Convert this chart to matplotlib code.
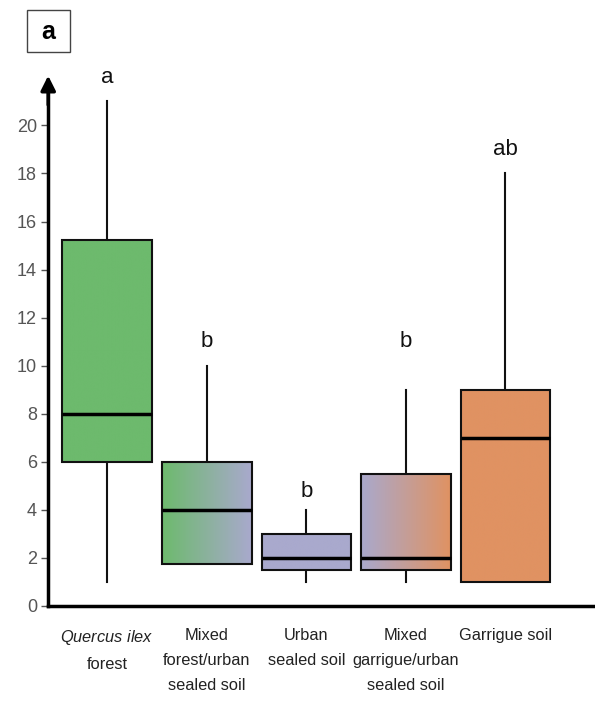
import numpy as np
import matplotlib
matplotlib.use("Agg")
import matplotlib.pyplot as plt
from matplotlib.colors import LinearSegmentedColormap
from matplotlib.patches import Rectangle

plt.rcParams['font.family'] = ['Liberation Sans', 'DejaVu Sans']
plt.rcParams['mathtext.fontset'] = 'custom'
plt.rcParams['mathtext.it'] = 'Liberation Sans:italic'
plt.rcParams['mathtext.rm'] = 'Liberation Sans'

# data
categories = [r"$\it{Quercus\ ilex}$" + "\nforest",
              "Mixed\nforest/urban\nsealed soil",
              "Urban\nsealed soil",
              "Mixed\ngarrigue/urban\nsealed soil",
              "Garrigue soil"]
q1 = [6.0, 1.75, 1.5, 1.5, 1.0]
q3 = [15.25, 6.0, 3.0, 5.5, 9.0]
medians = [8.0, 4.0, 2.0, 2.0, 7.0]
whis_low = [1.0, 1.75, 1.0, 1.0, 1.0]
whis_high = [21.0, 10.0, 4.0, 9.0, 18.0]
letters = ["a", "b", "b", "b", "ab"]
letter_y = [22.0, 11.0, 4.75, 11.0, 19.0]

green = "#6dba6d"
lavender = "#a9a9cd"
orange = "#e09262"
fill_left = [green, green, lavender, lavender, orange]
fill_right = [green, lavender, lavender, orange, orange]

fig = plt.figure(figsize=(5.95, 7.02), dpi=100)
ax = fig.add_axes([0.081, 0.137, 0.919, 0.763])

positions = np.arange(1, len(categories) + 1)
width = 0.9
stats = []
for i in range(len(categories)):
    stats.append(dict(med=medians[i], q1=q1[i], q3=q3[i],
                      whislo=whis_low[i], whishi=whis_high[i], fliers=[]))

bp = ax.bxp(stats, positions=positions, widths=width, patch_artist=True,
            showcaps=False, showfliers=False,
            boxprops=dict(facecolor='none', edgecolor='#111111', linewidth=1.5),
            whiskerprops=dict(color='#111111', linewidth=1.5),
            medianprops=dict(color='black', linewidth=2.5))

# gradient fills clipped to each box
grad = np.linspace(0, 1, 256).reshape(1, -1)
for i, box in enumerate(bp['boxes']):
    box.set_zorder(3)
    cmap = LinearSegmentedColormap.from_list("g%d" % i, [fill_left[i], fill_right[i]])
    im = ax.imshow(grad, cmap=cmap, aspect='auto', zorder=2,
                   extent=[positions[i] - width / 2, positions[i] + width / 2, q1[i], q3[i]])
    im.set_clip_path(box)

for w in bp['whiskers']:
    w.set_zorder(1)
for m in bp['medians']:
    m.set_zorder(4)

for i, lab in enumerate(letters):
    ax.text(positions[i], letter_y[i], lab, ha='center', va='center', fontsize=16, color='#111111')

ax.set_xlim(0.407, 5.9)
ax.set_ylim(0, 22.3)
ax.set_yticks(np.arange(0, 21, 2))
ax.set_xticks(positions)
ax.set_xticklabels(categories, fontsize=11.8, linespacing=1.85, color='#222222')
ax.tick_params(axis='x', length=0, pad=16)
ax.tick_params(axis='y', length=5, width=1, pad=3, labelsize=13, labelcolor='#555555', colors='#555555')
for s in ['top', 'right']:
    ax.spines[s].set_visible(False)
ax.spines['left'].set_linewidth(2.5)
ax.spines['bottom'].set_linewidth(2.5)
ax.spines['left'].set_bounds(0, 21.5)

ax.annotate('', xy=(0, 0.995), xytext=(0, 0.93), xycoords='axes fraction',
            arrowprops=dict(arrowstyle='-|>', lw=2.5, color='black', mutation_scale=22))

# panel label
fig.add_artist(Rectangle((27 / 595, 1 - 52 / 702), 43 / 595, 42 / 702, transform=fig.transFigure,
                         fc='white', ec='#444444', lw=1))
fig.text(48.5 / 595, 1 - 32 / 702, 'a', fontsize=18, fontweight='bold', ha='center', va='center')

fig.savefig('out.png', dpi=100)
